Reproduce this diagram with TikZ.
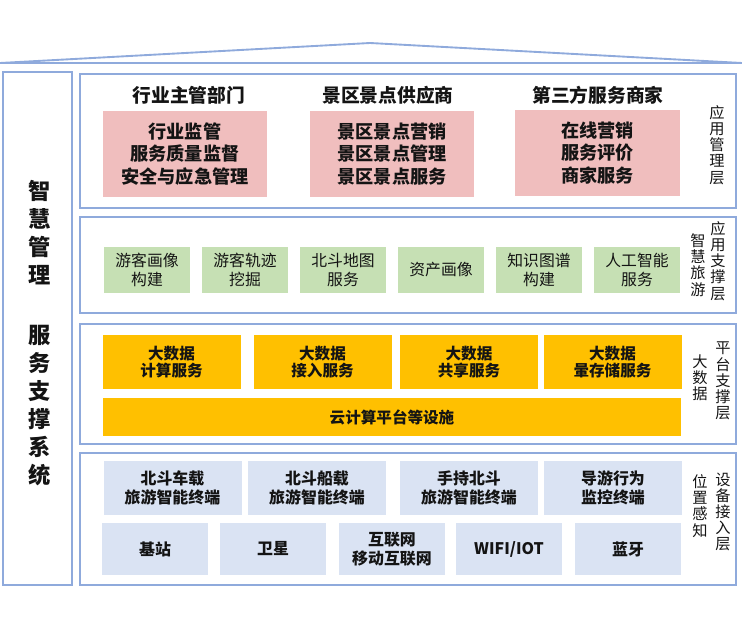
\documentclass[tikz,border=0pt]{standalone}
\usepackage{fontspec}
\setmainfont{Noto Sans CJK SC}
\usepackage{tikz}
\usetikzlibrary{positioning}
\definecolor{frameblue}{RGB}{143,170,220}
\definecolor{pinkfill}{RGB}{240,190,190}
\definecolor{greenfill}{RGB}{198,224,180}
\definecolor{goldfill}{RGB}{255,192,0}
\definecolor{palefill}{RGB}{218,227,243}
\definecolor{ink}{RGB}{20,20,20}
\newcommand{\pxu}{0.03cm}
\tikzset{
  cell/.style 2 args={minimum width=#1*\pxu, minimum height=#2*\pxu, inner sep=0pt, align=center, text=ink},
  layer/.style={draw=frameblue, line width=1.6pt},
  head/.style={font=\fontsize{16}{19}\selectfont\bfseries, text=ink},
  pinkbox/.style={fill=pinkfill, font=\fontsize{15.5}{19}\selectfont\bfseries},
  greenbox/.style={fill=greenfill, font=\fontsize{13.5}{15.6}\selectfont},
  goldbox/.style={fill=goldfill, font=\fontsize{13.3}{15}\selectfont\bfseries},
  palebox/.style={fill=palefill, font=\fontsize{13.6}{16}\selectfont\bfseries},
  side/.style={align=center, inner sep=0pt, text=ink, font=\fontsize{13}{13.8}\selectfont}}

\begin{document}
\begin{tikzpicture}[x=\pxu, y=-\pxu]
  \useasboundingbox (0,0) rectangle (742,629);
  % roof
  \draw[frameblue, line width=1.6pt] (0,63) -- (370,43) -- (742,63) -- cycle;
  % frames
  \node[layer, cell={69}{513}] (mgr) at (37.5,328.5) {};
  \node[layer, cell={656}{134}] (appmgmt) at (408,141) {};
  \node[layer, cell={656}{96}] (appsup) at (408,265) {};
  \node[layer, cell={656}{120}] (platform) at (408,384) {};
  \node[layer, cell={656}{132}] (access) at (408,519) {};
  \node[align=center, inner sep=0pt, text=ink, font=\fontsize{19}{24}\selectfont\bfseries] (mgrtext) at (40,333)
    {智\\慧\\管\\理\\[0.95cm]服\\务\\支\\撑\\系\\统};
  % application management layer
  \node[head] (gov) at (189,95) {行业主管部门};
  \node[head] (scenic) at (388,95) {景区景点供应商};
  \node[head] (third) at (598,95) {第三方服务商家};
  \node[cell={164}{86}, pinkbox] (govbox) at (185,154) {行业监管\\服务质量监督\\安全与应急管理};
  \node[cell={164}{86}, pinkbox] (scenicbox) at (392,154) {景区景点营销\\景区景点管理\\景区景点服务};
  \node[cell={165}{86}, pinkbox] (thirdbox) at (597.5,153) {在线营销\\服务评价\\商家服务};
  \node[side] (lab1) at (717,145) {应\\用\\管\\理\\层};
  % application support layer
  \foreach \x/\t [count=\i] in {147/{游客画像\\构建}, 245/{游客轨迹\\挖掘}, 343/{北斗地图\\服务},
      441/{资产画像}, 539/{知识图谱\\构建}, 637/{人工智能\\服务}}
    \node[cell={86}{46}, greenbox] (app\i) at (\x,270) {\t};
  \node[side] (lab2a) at (698,265) {智\\慧\\旅\\游};
  \node[side] (lab2b) at (718,261) {应\\用\\支\\撑\\层};
  % platform layer
  \foreach \x/\t [count=\i] in {171.5/{大数据\\计算服务}, 322.5/{大数据\\接入服务},
      469/{大数据\\共享服务}, 612.5/{大数据\\暈存储服务}}
    \node[cell={138}{54}, goldbox] (data\i) at (\x,362) {\t};
  \node[cell={578}{38}, goldbox] (cloud) at (392,417) {云计算平台等设施};
  \node[side] (lab3a) at (700,378) {大\\数\\据};
  \node[side] (lab3b) at (723,381) {平\\台\\支\\撑\\层};
  % device access layer
  \foreach \x/\t [count=\i] in {172.5/{北斗车载\\旅游智能终端}, 317/{北斗船载\\旅游智能终端},
      469/{手持北斗\\旅游智能终端}, 613/{导游行为\\监控终端}}
    \node[cell={138}{54}, palebox] (term\i) at (\x,488) {\t};
  \foreach \x/\t [count=\i] in {155/{基站}, 273/{卫星}, 392/{互联网\\移动互联网},
      509/{WIFI/IOT}, 628/{蓝牙}}
    \node[cell={106}{52}, palebox] (net\i) at (\x,549) {\t};
  \node[side] (lab4a) at (700,506) {位\\置\\感\\知};
  \node[side] (lab4b) at (723,512) {设\\备\\接\\入\\层};
\end{tikzpicture}
\end{document}
